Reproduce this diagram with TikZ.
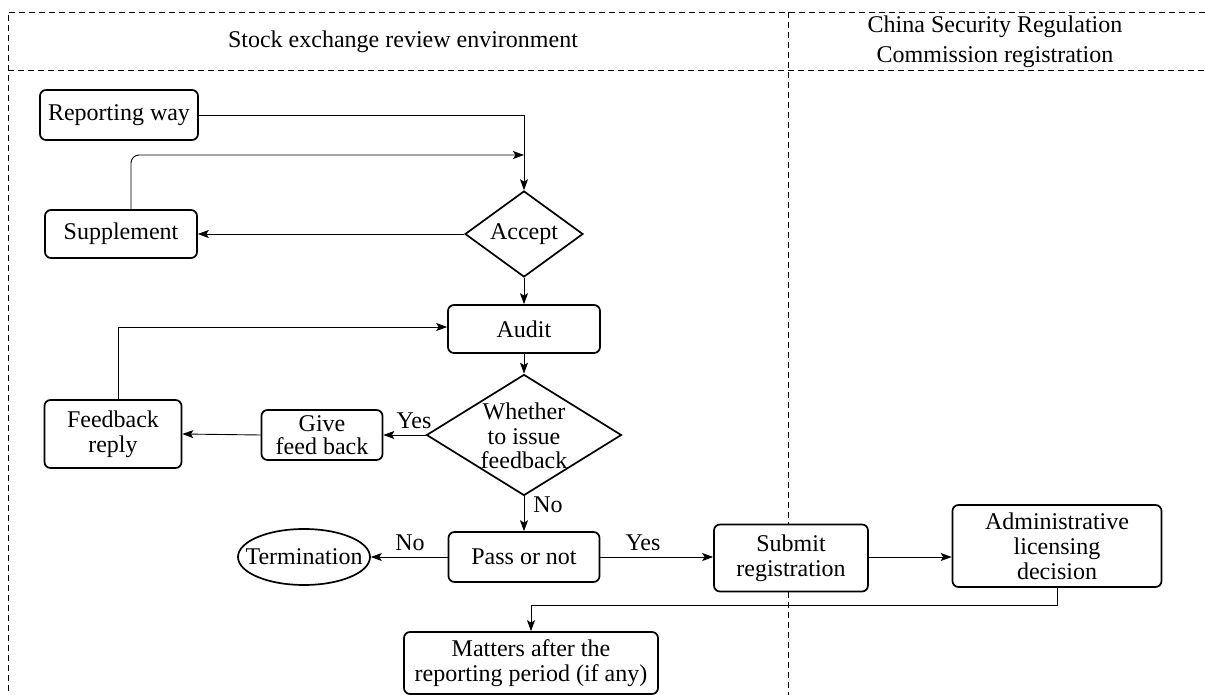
\documentclass[tikz,border=0pt]{standalone}
\usepackage{fontspec}
\setmainfont{Liberation Serif}
\usetikzlibrary{shapes.geometric,arrows.meta}
\begin{document}
\begin{tikzpicture}[x=1pt,y=-1pt,
  font=\fontsize{24}{25}\selectfont,
  box/.style={draw,line width=1.7pt,rounded corners=6pt,fill=white,align=center,inner sep=0pt},
  dia/.style={draw,diamond,line width=1.7pt,fill=white,inner sep=0pt},
  arr/.style={line width=0.9pt,-{Stealth[length=11pt,width=8pt,inset=2.5pt]}},
  lane/.style={dashed,dash pattern=on 6pt off 4pt,line width=0.8pt},
  lbl/.style={inner sep=0pt}]
\useasboundingbox (0,0) rectangle (1205,695);
\fill[white] (0,0) rectangle (1205,695);
% lanes
\draw[lane] (1205,12) -- (8,12) -- (8,695);
\draw[lane] (8,70) -- (1205,70);
\draw[lane] (788,12) -- (788,695);
\node[lbl] (h1) at (403,42) {Stock exchange review environment};
\node[lbl,align=center,font=\fontsize{24}{30}\selectfont] (h2) at (995,42) {China Security Regulation\\Commission registration};
% nodes
\node[box,minimum width=158,minimum height=50] (rep) at (119,115) {Reporting way};
\node[box,minimum width=152,minimum height=48] (sup) at (121,234) {Supplement};
\node[dia,minimum width=118,minimum height=86] (acc) at (524,234) {};
\node[lbl] (acct) at (acc) {Accept};
\node[box,minimum width=152,minimum height=48] (aud) at (524,329) {Audit};
\node[dia,minimum width=195,minimum height=121] (wh) at (524,435) {};
\node[lbl,align=center,font=\fontsize{24}{24.5}\selectfont] (wht) at (524,436) {Whether\\to issue\\feedback};
\node[box,minimum width=121,minimum height=50,font=\fontsize{24}{23}\selectfont] (give) at (322,435) {Give\\feed back};
\node[box,minimum width=137,minimum height=68] (fbr) at (113,434) {Feedback\\reply};
\node[box,minimum width=151,minimum height=50] (pass) at (524,557) {Pass or not};
\node[draw,ellipse,line width=1.7pt,minimum width=132,minimum height=56,inner sep=0pt] (term) at (304,557) {};
\node[lbl] (termt) at (term) {Termination};
\node[box,minimum width=154,minimum height=67] (sub) at (791,558) {Submit\\registration};
\node[box,minimum width=209,minimum height=82] (adm) at (1057,546) {Administrative\\licensing\\decision};
\node[box,minimum width=254,minimum height=62] (mat) at (531,663) {Matters after the\\reporting period (if any)};
% junctions
\coordinate (j1) at (524,155);
\coordinate (j2) at (531,605);
% connectors
\draw[arr] (rep.east) -| (acc.north);
\draw[arr,rounded corners=8pt] ([xshift=10pt]sup.north) |- (j1);
\draw[arr] (acc.west) -- (sup.east);
\draw[arr] (acc.south) -- (aud.north);
\draw[arr] (aud.south) -- (wh.north);
\draw[arr] (wh.west) -- (give.east);
\draw[arr] (give.west) -- (fbr.east);
\draw[arr] ([xshift=5pt]fbr.north) |- ([yshift=2pt]aud.west);
\draw[arr] (wh.south) -- (pass.north);
\draw[arr] (pass.west) -- (term.east);
\draw[arr] (pass.east) -- (pass.east -| sub.west);
\draw[arr] (pass.east -| sub.east) -- (pass.east -| adm.west);
\draw[arr] (adm.south) |- (j2) -- (mat.north);
% labels
\node[lbl] (ly1) at (414,421) {Yes};
\node[lbl] (ln1) at (548,505) {No};
\node[lbl] (ln2) at (410,543) {No};
\node[lbl] (ly2) at (643,543) {Yes};
\end{tikzpicture}
\end{document}
